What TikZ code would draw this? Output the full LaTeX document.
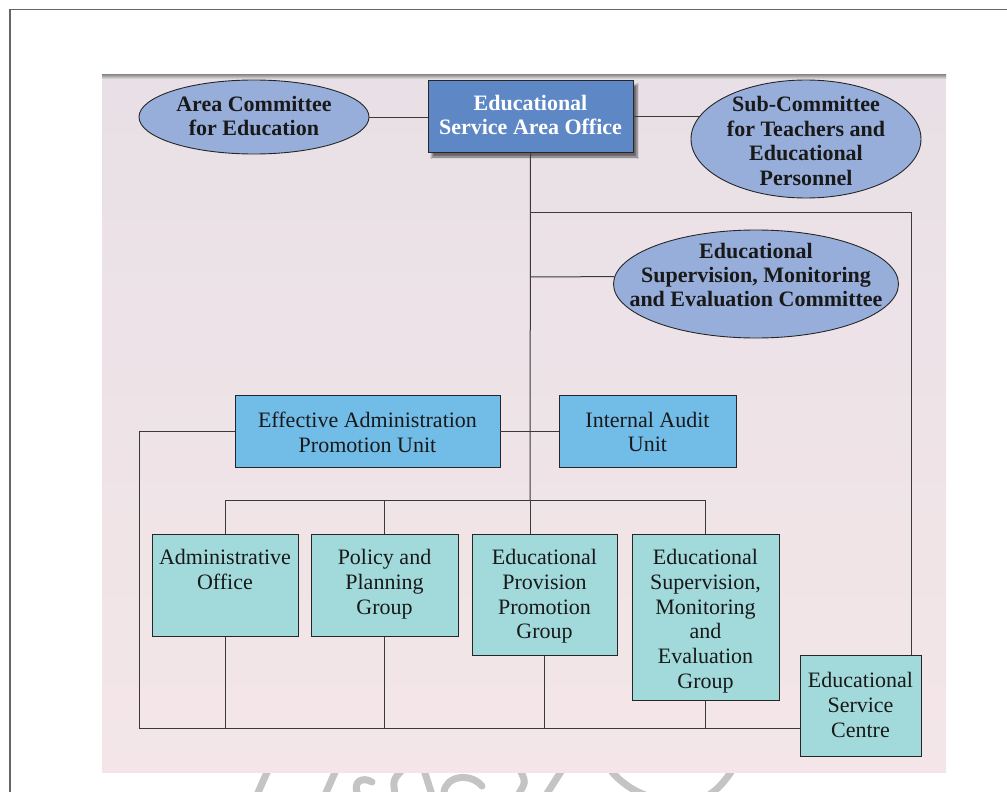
\documentclass[tikz,border=0pt]{standalone}
\usepackage{fontspec}
\setmainfont{Liberation Serif}
\usetikzlibrary{shapes.geometric,shadows.blur}

\definecolor{panelTop}{HTML}{E8E0E6}
\definecolor{panelBot}{HTML}{F4E6E8}
\definecolor{ellFill}{HTML}{97AEDB}
\definecolor{officeFill}{HTML}{5E87C5}
\definecolor{unitFill}{HTML}{72BCE8}
\definecolor{groupFill}{HTML}{A2DADB}
\definecolor{wire}{HTML}{3A3A3A}
\definecolor{mark}{HTML}{C4C4C4}

\tikzset{
  txt/.style={font=\fontsize{22}{24.8}\selectfont, align=center, inner sep=0pt, text=black!90},
  btxt/.style={txt, font=\bfseries\fontsize{22}{24.4}\selectfont},
  committee/.style={ellipse, draw=black!85, line width=0.9pt, fill=ellFill, inner sep=0pt},
  office/.style={rectangle, draw=black!85, line width=0.9pt, fill=officeFill, inner sep=0pt,
    blur shadow={shadow xshift=4pt, shadow yshift=-5pt, shadow blur steps=6, shadow opacity=55}},
  unitbox/.style={rectangle, draw=black!85, line width=0.8pt, fill=unitFill, inner sep=0pt},
  groupbox/.style={rectangle, draw=black!85, line width=0.8pt, fill=groupFill, inner sep=0pt},
  link/.style={draw=wire, line width=1pt},
  wm/.style={draw=mark, line width=7pt, line cap=round}
}

\begin{document}
\begin{tikzpicture}[x=1pt, y=-1pt]
\useasboundingbox (0,0) rectangle (1007,792);
\clip (0,0) rectangle (1007,792);
\fill[white] (0,0) rectangle (1007,792);

% page frame
\draw[black!60, line width=1.6pt] (10,800) -- (10,9.5) -- (1015,9.5);

% emblem strokes peeking below the panel
\draw[wm] (268,770) -- (257,795);
\draw[wm] (336,770) -- (325,795);
\draw[wm] (358,795) .. controls (352,782) and (362,776) .. (372,782);
\draw[wm] (402,770) .. controls (393,780) .. (395,795);
\draw[wm] (424,770) -- (432,795);
\draw[wm] (444,792) .. controls (446,776) and (470,772) .. (482,786);
\draw[wm] (520,770) .. controls (526,782) .. (518,795);
\draw[wm] (562,770) -- (546,795);
\draw[wm] (612,772) .. controls (622,783) and (632,790) .. (645,795);
\draw[wm] (731,772) .. controls (724,782) and (718,789) .. (709,795);

% panel
\shade[top color=panelTop, bottom color=panelBot] (102,75) rectangle (946,772);
\shade[top color=black!45, bottom color=panelTop] (102,74.5) rectangle (946,79);

% top row
\node[committee, minimum width=230pt, minimum height=74pt] (ace) at (254,117) {};
\node[btxt] (ace-t) at (254,116) {Area Committee\\for Education};

\node[office, minimum width=205pt, minimum height=72pt] (esao) at (530.5,116) {};
\node[btxt, text=white] (esao-t) at (530.5,115) {Educational\\Service Area Office};

\node[committee, minimum width=230pt, minimum height=118pt] (sub) at (806,139) {};
\node[btxt] (sub-t) at (806,141) {Sub-Committee\\for Teachers and\\Educational\\Personnel};

\node[committee, minimum width=285pt, minimum height=108pt] (esmec) at (756,284) {};
\node[btxt] (esmec-t) at (756,275) {Educational\\Supervision, Monitoring\\and Evaluation Committee};

% units
\node[unitbox, minimum width=265pt, minimum height=72pt] (eapu) at (367.5,431) {};
\node[txt] (eapu-t) at (367.5,432) {Effective Administration\\Promotion Unit};

\node[unitbox, minimum width=177pt, minimum height=72pt] (iau) at (647.5,431) {};
\node[txt] (iau-t) at (647.5,432) {Internal Audit\\Unit};

% groups (text hangs from the top edge)
\node[groupbox, minimum width=146pt, minimum height=102pt, anchor=north] (adm) at (225,534) {};
\node[txt, anchor=north] (adm-t) at ([yshift=-15pt]adm.north) {Administrative\\Office};

\node[groupbox, minimum width=147pt, minimum height=102pt, anchor=north] (ppg) at (384.5,534) {};
\node[txt, anchor=north] (ppg-t) at ([yshift=-15pt]ppg.north) {Policy and\\Planning\\Group};

\node[groupbox, minimum width=145pt, minimum height=121pt, anchor=north] (epp) at (544.5,534) {};
\node[txt, anchor=north] (epp-t) at ([yshift=-15pt]epp.north) {Educational\\Provision\\Promotion\\Group};

\node[groupbox, minimum width=147pt, minimum height=166pt, anchor=north] (esmeg) at (705.5,534) {};
\node[txt, anchor=north] (esmeg-t) at ([yshift=-15pt]esmeg.north) {Educational\\Supervision,\\Monitoring\\and\\Evaluation\\Group};

\node[groupbox, minimum width=121pt, minimum height=101pt] (esc) at (860.5,705.5) {};
\node[txt] (esc-t) at (860.5,705) {Educational\\Service\\Centre};

% junction points
\coordinate (spine) at (530,500);
\coordinate (jsub) at (530,212);
\coordinate (jright) at (911,212);
\coordinate (jesm) at (530,277);
\coordinate (lft) at (139,431);
\coordinate (bot) at (139,728);
\coordinate (busL) at (225,500);
\coordinate (busR) at (705.5,500);

% connectors
\path[link] (ace.east) -- (ace.east -| esao.west);
\path[link] (sub.168) -- (sub.168 -| esao.east);
\path[link] (esao.south) -- (spine);
\path[link] (jsub) -- (jright) -- (esc.north -| jright);
\path[link] (jesm) -- (esmec.177);
\path[link] (eapu.east) -- (iau.west);
\path[link] (eapu.west) -- (lft) -- (bot) -- (esc.west |- bot);
\path[link] (busL) -- (busR);
\path[link] (busL) -- (adm.north);
\path[link] (ppg.north |- spine) -- (ppg.north);
\path[link] (spine) -- (spine |- epp.north);
\path[link] (busR) -- (esmeg.north);
\path[link] (adm.south) -- (adm.south |- bot);
\path[link] (ppg.south) -- (ppg.south |- bot);
\path[link] (epp.south) -- (epp.south |- bot);
\path[link] (esmeg.south) -- (esmeg.south |- bot);
\end{tikzpicture}
\end{document}
